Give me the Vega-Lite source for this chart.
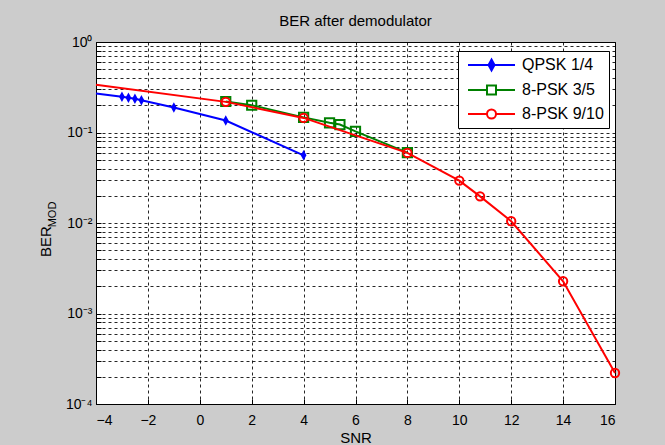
{
  "$schema": "https://vega.github.io/schema/vega-lite/v6.json",
  "width": 519,
  "height": 362,
  "autosize": "none",
  "padding": {"left": 96, "top": 42, "right": 50, "bottom": 41},
  "background": "#cccccc",
  "config": {
    "font": "Liberation Sans",
    "view": {"fill": "white", "stroke": "black", "strokeWidth": 1},
    "axis": {
      "labelFont": "Liberation Sans",
      "labelFontSize": 14,
      "labelColor": "black",
      "titleFont": "Liberation Sans",
      "titleFontSize": 15,
      "titleFontWeight": "normal",
      "titleColor": "black",
      "domain": false,
      "tickColor": "black",
      "tickSize": -5,
      "gridColor": "#000000",
      "gridDash": [3, 3],
      "gridOpacity": 0.85,
      "gridWidth": 1
    }
  },
  "title": {
    "text": "BER after demodulator",
    "font": "Liberation Sans",
    "fontSize": 15,
    "fontWeight": "normal",
    "color": "black",
    "anchor": "middle",
    "offset": 6
  },
  "data": {
    "values": [
      {"series": "QPSK 1/4", "snr": -4, "ber": 0.27},
      {"series": "QPSK 1/4", "snr": -3, "ber": 0.248},
      {"series": "QPSK 1/4", "snr": -2.75, "ber": 0.2415},
      {"series": "QPSK 1/4", "snr": -2.5, "ber": 0.2355},
      {"series": "QPSK 1/4", "snr": -2.25, "ber": 0.227},
      {"series": "QPSK 1/4", "snr": -1, "ber": 0.189},
      {"series": "QPSK 1/4", "snr": 1, "ber": 0.1356},
      {"series": "QPSK 1/4", "snr": 4, "ber": 0.056},
      {"series": "8-PSK 3/5", "snr": 1, "ber": 0.22},
      {"series": "8-PSK 3/5", "snr": 2, "ber": 0.2},
      {"series": "8-PSK 3/5", "snr": 4, "ber": 0.147},
      {"series": "8-PSK 3/5", "snr": 5, "ber": 0.128},
      {"series": "8-PSK 3/5", "snr": 5.4, "ber": 0.1224},
      {"series": "8-PSK 3/5", "snr": 6, "ber": 0.103},
      {"series": "8-PSK 3/5", "snr": 8, "ber": 0.06},
      {"series": "8-PSK 9/10", "snr": -4, "ber": 0.336},
      {"series": "8-PSK 9/10", "snr": 1, "ber": 0.218},
      {"series": "8-PSK 9/10", "snr": 4, "ber": 0.145},
      {"series": "8-PSK 9/10", "snr": 8, "ber": 0.0595},
      {"series": "8-PSK 9/10", "snr": 10, "ber": 0.0294},
      {"series": "8-PSK 9/10", "snr": 10.8, "ber": 0.0197},
      {"series": "8-PSK 9/10", "snr": 12, "ber": 0.01045},
      {"series": "8-PSK 9/10", "snr": 14, "ber": 0.00227},
      {"series": "8-PSK 9/10", "snr": 16, "ber": 0.00022}
    ]
  },
  "resolve": {"scale": {"y": "independent"}},
  "layer": [
    {
      "encoding": {
        "x": {
          "field": "snr",
          "type": "quantitative",
          "scale": {"domain": [-4, 16], "nice": false, "zero": false},
          "axis": {
            "values": [-4, -2, 0, 2, 4, 6, 8, 10, 12, 14, 16],
            "title": "SNR",
            "labelPadding": 14,
            "titlePadding": 3
          }
        },
        "y": {
          "field": "ber",
          "type": "quantitative",
          "scale": {"type": "log", "domain": [0.0001, 1], "nice": false},
          "axis": {
            "values": [0.0001, 0.0002, 0.0003, 0.0004, 0.0005, 0.0006, 0.0007, 0.0008, 0.0009, 0.001, 0.002, 0.003, 0.004, 0.005, 0.006, 0.007, 0.008, 0.009, 0.01, 0.02, 0.03, 0.04, 0.05, 0.06, 0.07, 0.08, 0.09, 0.1, 0.2, 0.3, 0.4, 0.5, 0.6, 0.7, 0.8, 0.9, 1],
            "labelExpr": "abs(log(datum.value)/LN10 - round(log(datum.value)/LN10)) > 0.000001 ? '' : round(log(datum.value)/LN10) == 0 ? '10⁰' : round(log(datum.value)/LN10) == -1 ? '10⁻¹' : round(log(datum.value)/LN10) == -2 ? '10⁻²' : round(log(datum.value)/LN10) == -3 ? '10⁻³' : '10⁻⁴'",
            "labelPadding": 9,
            "title": "BER",
            "titleAngle": 270,
            "titleX": -46,
            "titleY": 199,
            "titleAlign": "center",
            "titleBaseline": "alphabetic"
          }
        }
      },
      "layer": [
        {
          "transform": [{"filter": "datum.series !== '8-PSK 9/10'"}],
          "mark": {"type": "line", "strokeWidth": 2},
          "encoding": {
            "color": {
              "field": "series",
              "type": "nominal",
              "scale": {"domain": ["QPSK 1/4", "8-PSK 3/5", "8-PSK 9/10"], "range": ["#0000ff", "#008000", "#ff0000"]},
              "legend": {
                "title": null,
                "orient": "none",
                "legendX": 362,
                "legendY": 9,
                "symbolSize": 256,
                "symbolStrokeWidth": 2,
                "labelFont": "Liberation Sans",
                "labelFontSize": 16,
                "labelColor": "black",
                "labelOffset": 41,
                "strokeColor": "black",
                "fillColor": "white",
                "padding": 5,
                "rowPadding": 6,
                "encode": {
                  "symbols": {
                    "update": {
                      "shape": {"signal": "datum.value === 'QPSK 1/4' ? 'M-0.5,0H5.375M2.44,-0.69L2.815,0L2.44,0.69L2.065,0Z' : datum.value === '8-PSK 3/5' ? 'M-0.5,0H1.875M3,0H5.375M1.875,-0.5625H3V0.5625H1.875Z' : 'M-0.5,0H1.875M3,0H5.375M1.875,0A0.5625,0.5625 0 1,1 3,0A0.5625,0.5625 0 1,1 1.875,0Z'"},
                      "fill": {"signal": "datum.value === 'QPSK 1/4' ? '#0000ff' : 'transparent'"}
                    }
                  }
                }
              }
            }
          }
        },
        {
          "transform": [{"filter": "datum.series === 'QPSK 1/4' && datum.snr > -4"}],
          "mark": {"type": "point", "shape": "M0,-1L0.55,0L0,1L-0.55,0Z", "size": 110, "filled": true, "color": "#0000ff", "opacity": 1}
        },
        {
          "transform": [{"filter": "datum.series === '8-PSK 3/5'"}],
          "mark": {"type": "point", "shape": "square", "size": 85, "filled": false, "color": "#008000", "strokeWidth": 2, "opacity": 1}
        },
        {
          "transform": [{"filter": "datum.series === '8-PSK 9/10'"}],
          "mark": {"type": "line", "strokeWidth": 2, "color": "#ff0000"}
        },
        {
          "transform": [{"filter": "datum.series === '8-PSK 9/10' && datum.snr > -4"}],
          "mark": {"type": "point", "shape": "circle", "size": 70, "filled": false, "color": "#ff0000", "strokeWidth": 2, "opacity": 1}
        }
      ]
    },
    {
      "transform": [{"filter": "datum.series === '8-PSK 9/10'"}],
      "mark": {"type": "point", "opacity": 0},
      "encoding": {
        "x": {"field": "snr", "type": "quantitative", "scale": {"domain": [-4, 16], "nice": false, "zero": false}},
        "y": {
          "field": "ber",
          "type": "quantitative",
          "scale": {"type": "log", "domain": [0.0001, 1], "nice": false},
          "axis": {
            "orient": "right",
            "title": "MOD",
            "titleFontSize": 11,
            "labels": false,
            "ticks": false,
            "domain": false,
            "grid": false,
            "titleAngle": 270,
            "titleX": -560,
            "titleY": 172,
            "titleAlign": "center",
            "titleBaseline": "alphabetic"
          }
        }
      }
    }
  ]
}
